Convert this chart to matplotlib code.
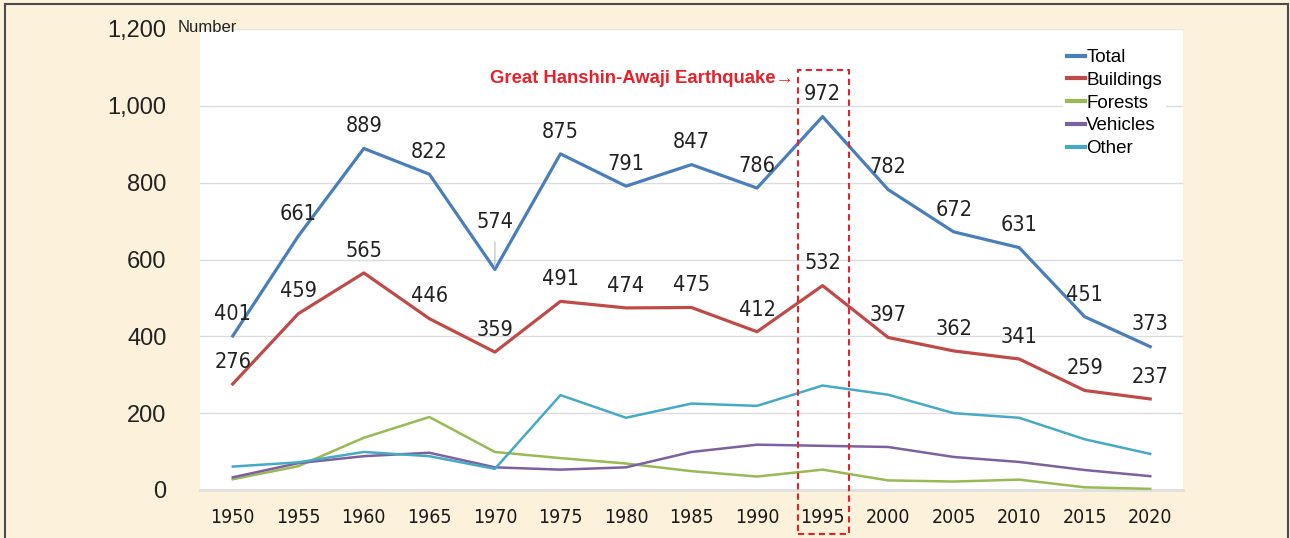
"""Number of fires by cause, 1950-2020"""

import matplotlib
matplotlib.use('Agg')
from matplotlib import pyplot as plt
from matplotlib.patches import Rectangle
import numpy as np

years = [1950, 1955, 1960, 1965, 1970, 1975, 1980, 1985, 1990, 1995,
         2000, 2005, 2010, 2015, 2020]
total = [401, 661, 889, 822, 574, 875, 791, 847, 786, 972, 782, 672, 631, 451, 373]
buildings = [276, 459, 565, 446, 359, 491, 474, 475, 412, 532, 397, 362, 341, 259, 237]
forests = [28, 62, 136, 190, 99, 83, 69, 49, 35, 53, 25, 22, 27, 7, 3]
vehicles = [33, 70, 88, 97, 59, 53, 59, 99, 118, 115, 112, 86, 73, 52, 36]
other = [61, 72, 99, 88, 55, 247, 188, 225, 219, 272, 248, 200, 188, 132, 94]
yticks = [0, 200, 400, 600, 800, 1000, 1200]
quake_year = 1995

beige = '#fcf2dc'
plain = ['Liberation Sans', 'DejaVu Sans']
cond = dict(family='DejaVu Sans', stretch='condensed')

fig = plt.figure(figsize=(12.9, 5.38), dpi=100, facecolor=beige)
ax = fig.add_axes([200 / 1290, 1 - 490 / 538, 983 / 1290, 461 / 538])
ax.set_facecolor('white')

x = np.arange(len(years))
series = [
    ('Total', total, '#4a7ebb', 2.3),
    ('Buildings', buildings, '#be4b48', 2.3),
    ('Forests', forests, '#98b954', 1.8),
    ('Vehicles', vehicles, '#7d60a0', 1.8),
    ('Other', other, '#46aac5', 1.8),
]
for name, vals, col, lw in series:
    ax.plot(x, vals, color=col, lw=lw, label=name, zorder=3)

# data labels for Total and Buildings
for vals in (total, buildings):
    for i, v in enumerate(vals):
        dy = 16
        if vals is total and years[i] == 1970:
            dy = 34
            ax.annotate('', xy=(i, v), xytext=(0, 22), textcoords='offset points',
                        arrowprops=dict(arrowstyle='-', color='#bbbbbb', lw=0.8))
        ax.annotate(str(v), (i, v), xytext=(0, dy), textcoords='offset points',
                    ha='center', va='center', fontsize=15.5, color='#222222',
                    zorder=5, **cond)

ax.set_xlim(-0.5, len(years) - 0.5)
ax.set_ylim(0, 1200)
ax.set_yticks(yticks)
ax.set_yticklabels([f'{t:,}' for t in yticks], family=plain, fontsize=17,
                   color='#222222')
ax.set_xticks(x)
ax.set_xticklabels([str(y) for y in years], fontsize=14, color='#1a1a1a', **cond)
ax.tick_params(axis='y', length=0, pad=24)
ax.tick_params(axis='x', length=0, pad=13)
ax.grid(axis='y', color='#dddddd', lw=1)
ax.set_axisbelow(True)
for s in ('left', 'right'):
    ax.spines[s].set_visible(False)
ax.spines['top'].set_color('#e6e6e6')
ax.spines['bottom'].set_color('#e0e0e0')
ax.spines['bottom'].set_linewidth(2)

leg = ax.legend(loc='upper right', bbox_to_anchor=(0.992, 0.985), frameon=True,
                facecolor='white', edgecolor='none', framealpha=1,
                prop={'family': plain, 'size': 13.5}, handlelength=1.0,
                handletextpad=0.05, labelspacing=0.3, borderpad=0.2)
for h in leg.get_lines():
    h.set_linewidth(3)
leg.set_zorder(4)

# dashed box around 1995
qi = years.index(quake_year)
box = Rectangle((qi - 0.38, -114), 0.78, 1207, fill=False, ec='#e8202a',
                lw=1.5, ls=(0, (3, 2)), clip_on=False, zorder=6)
ax.add_patch(box)
ax.text(qi - 0.44, 1070, 'Great Hanshin-Awaji Earthquake\u2192', ha='right',
        va='center', color='#e8202a', fontsize=13.3, fontweight='bold',
        family=plain)

fig.text(178 / 1290, 1 - 27 / 538, 'Number', fontsize=12, family=plain,
         color='#222222', va='center')

# outer frame
fig.add_artist(Rectangle((4.5 / 1290, -0.01), 1283 / 1290, 1 - 3.5 / 538 + 0.01,
                         transform=fig.transFigure, fill=False, ec='#4a4a4a',
                         lw=1.5))

fig.savefig('out.png', dpi=100, facecolor=beige)
